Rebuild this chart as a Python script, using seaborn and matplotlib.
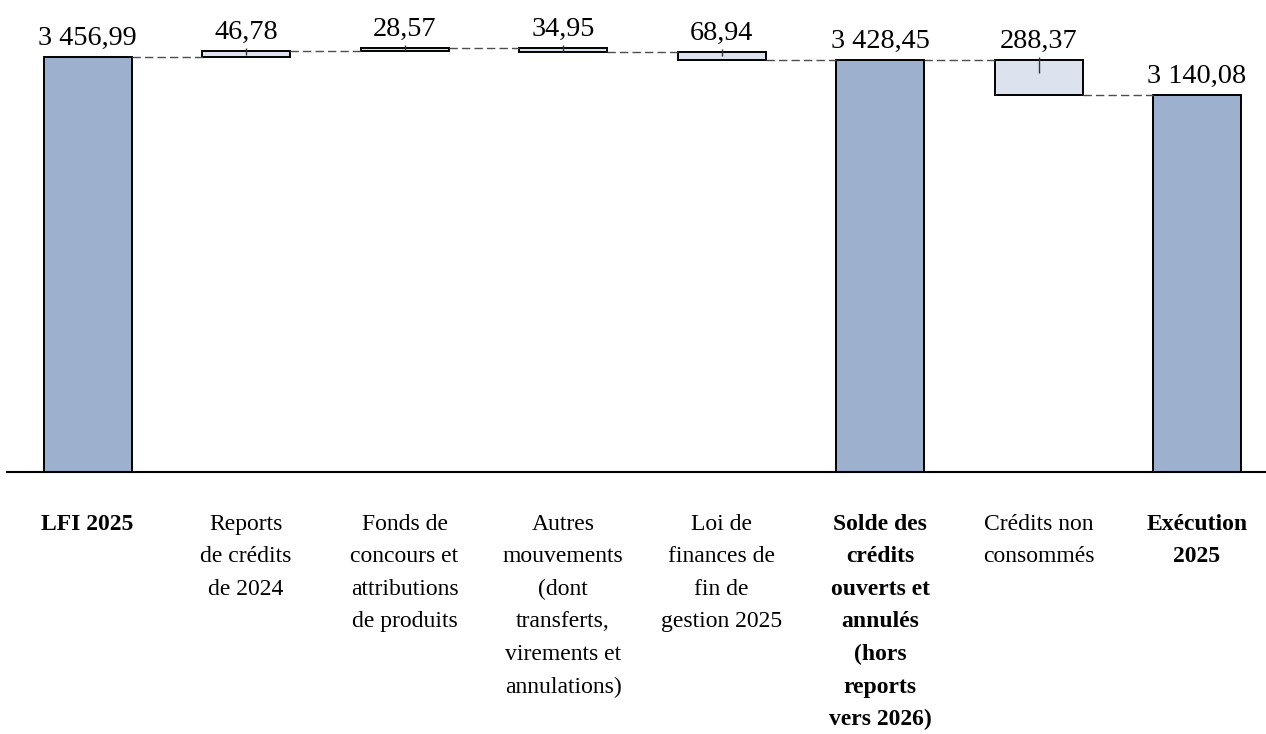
import matplotlib

matplotlib.use("Agg")
import matplotlib.pyplot as plt
import numpy as np
import seaborn as sns

# Waterfall: crédits de paiement, LFI 2025 -> exécution 2025 (M€)
CATEGORIES = [
    "LFI 2025",
    "Reports\nde crédits\nde 2024",
    "Fonds de\nconcours et\nattributions\nde produits",
    "Autres\nmouvements\n(dont\ntransferts,\nvirements et\nannulations)",
    "Loi de\nfinances de\nfin de\ngestion 2025",
    "Solde des\ncrédits\nouverts et\nannulés\n(hors\nreports\nvers 2026)",
    "Crédits non\nconsommés",
    "Exécution\n2025",
]
# "total" bars start at zero, "delta" bars float
KINDS = ["total", "delta", "delta", "delta", "delta", "total", "delta", "total"]
VALUES = [3456.99, 46.78, 28.57, -34.95, -68.94, 3428.45, -288.37, 3140.08]

TOTAL_COLOR = "#9DB0CE"
DELTA_COLOR = "#DCE3EE"


def fmt(v: float) -> str:
    return f"{abs(v):,.2f}".replace(",", " ").replace(".", ",")


def waterfall_geometry(kinds, values):
    bottoms, heights = [], []
    level = 0.0
    for kind, v in zip(kinds, values):
        if kind == "total":
            bottoms.append(0.0)
            heights.append(v)
            level = v
        else:
            bottoms.append(min(level, level + v))
            heights.append(abs(v))
            level += v
    return np.array(bottoms), np.array(heights)


def main() -> None:
    sns.set_theme(style="white")
    plt.rcParams["font.family"] = ["Liberation Serif", "DejaVu Serif"]
    plt.rcParams["text.color"] = "black"
    plt.rcParams["xtick.color"] = "black"

    bottoms, heights = waterfall_geometry(KINDS, VALUES)
    tops = bottoms + heights

    fig = plt.figure(figsize=(12.66, 7.34), dpi=100)
    ax = fig.add_axes([7 / 1266, 262 / 734, 1259 / 1266, 472 / 734])

    sns.barplot(
        x=list(range(len(CATEGORIES))),
        y=heights,
        bottom=bottoms,
        color=TOTAL_COLOR,
        edgecolor="black",
        linewidth=1.4,
        width=0.555,
        errorbar=None,
        ax=ax,
    )
    for patch, kind in zip(ax.patches, KINDS):
        patch.set_facecolor(TOTAL_COLOR if kind == "total" else DELTA_COLOR)
        patch.set_edgecolor("black")

    half = 0.555 / 2
    # dashed connectors between consecutive bars at the running level
    level = 0.0
    for i, (kind, v) in enumerate(zip(KINDS, VALUES)):
        level = v if kind == "total" else level + v
        if i < len(VALUES) - 1:
            ax.plot(
                [i + half, i + 1 - half], [level, level],
                color="#4d4d4d", lw=1.0, linestyle=(0, (6, 3)), zorder=1,
            )

    # small centre marks on floating bars
    for i, kind in enumerate(KINDS):
        if kind == "delta":
            ax.vlines(
                i, tops[i] - (0.3 * heights[i] + 15), tops[i] + 25,
                color="#333333", lw=1.0, zorder=3,
            )

    for i, v in enumerate(VALUES):
        ax.annotate(
            fmt(v), (i, tops[i]), xytext=(0, 4.5), textcoords="offset points",
            ha="center", va="bottom", fontsize=20.3, color="black",
        )

    ax.set_xlim(-0.508, 7.435)
    ax.set_ylim(0, 3932)
    ax.set_yticks([])
    ax.set_xticks(range(len(CATEGORIES)))
    ax.set_xticklabels(CATEGORIES, fontsize=17, linespacing=1.72, va="top", ha="center")
    for lbl, kind in zip(ax.get_xticklabels(), KINDS):
        lbl.set_color("black")
        if kind == "total":
            lbl.set_fontweight("bold")
    ax.tick_params(axis="x", length=0, pad=30)
    ax.set_xlabel("")

    for side in ["left", "right", "top"]:
        ax.spines[side].set_visible(False)
    ax.spines["bottom"].set_color("black")
    ax.spines["bottom"].set_linewidth(1.5)

    fig.savefig("out.png", dpi=100, facecolor="white")
    plt.close(fig)


if __name__ == "__main__":
    main()
